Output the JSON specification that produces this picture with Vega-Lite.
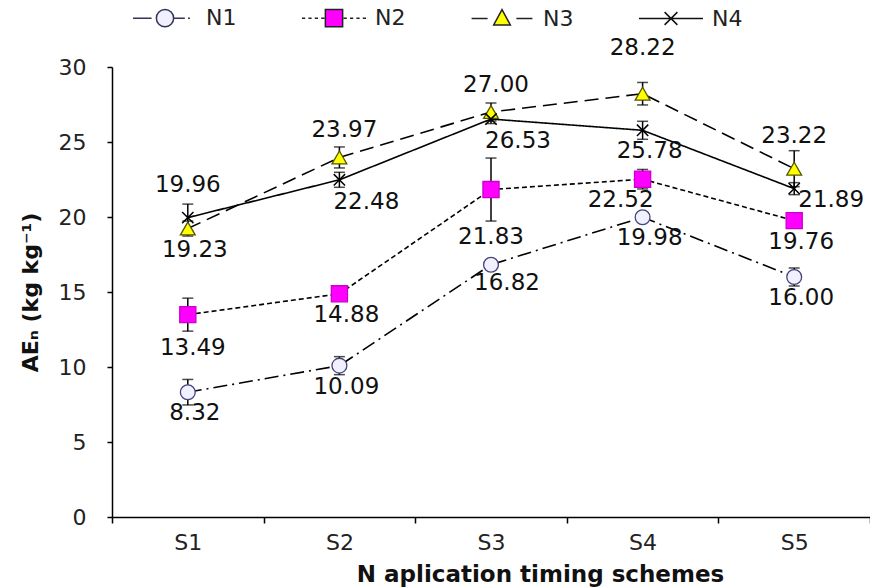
{
  "$schema": "https://vega.github.io/schema/vega-lite/v6.json",
  "autosize": "none",
  "width": 758,
  "height": 450,
  "padding": {"left": 112, "top": 67, "right": 0, "bottom": 70},
  "background": "white",
  "config": {
    "view": {"stroke": null},
    "font": "DejaVu Sans",
    "axis": {"grid": false, "domainColor": "#000", "domainWidth": 1.5, "tickColor": "#000", "tickWidth": 1.5, "labelFont": "DejaVu Sans", "labelFontSize": 22, "labelColor": "#222", "titleFont": "DejaVu Sans", "titleFontWeight": "bold", "titleColor": "#111"}
  },
  "data": {"values": [
    {"series": "N1", "scheme": "S1", "value": 8.32, "lo": 7.47, "hi": 9.17},
    {"series": "N1", "scheme": "S2", "value": 10.09, "lo": 9.49, "hi": 10.69},
    {"series": "N1", "scheme": "S3", "value": 16.82, "lo": 16.52, "hi": 17.12},
    {"series": "N1", "scheme": "S4", "value": 19.98, "lo": 19.68, "hi": 20.28},
    {"series": "N1", "scheme": "S5", "value": 16.00, "lo": 15.4, "hi": 16.6},
    {"series": "N2", "scheme": "S1", "value": 13.49, "lo": 12.39, "hi": 14.59},
    {"series": "N2", "scheme": "S2", "value": 14.88, "lo": 14.58, "hi": 15.18},
    {"series": "N2", "scheme": "S3", "value": 21.83, "lo": 19.73, "hi": 23.93},
    {"series": "N2", "scheme": "S4", "value": 22.52, "lo": 21.87, "hi": 23.17},
    {"series": "N2", "scheme": "S5", "value": 19.76, "lo": 19.46, "hi": 20.06},
    {"series": "N3", "scheme": "S1", "value": 19.23, "lo": 18.73, "hi": 19.73},
    {"series": "N3", "scheme": "S2", "value": 23.97, "lo": 23.27, "hi": 24.67},
    {"series": "N3", "scheme": "S3", "value": 27.00, "lo": 26.4, "hi": 27.6},
    {"series": "N3", "scheme": "S4", "value": 28.22, "lo": 27.47, "hi": 28.97},
    {"series": "N3", "scheme": "S5", "value": 23.22, "lo": 22.02, "hi": 24.42},
    {"series": "N4", "scheme": "S1", "value": 19.96, "lo": 19.06, "hi": 20.86},
    {"series": "N4", "scheme": "S2", "value": 22.48, "lo": 21.98, "hi": 22.98},
    {"series": "N4", "scheme": "S3", "value": 26.53, "lo": 26.23, "hi": 26.83},
    {"series": "N4", "scheme": "S4", "value": 25.78, "lo": 25.18, "hi": 26.38},
    {"series": "N4", "scheme": "S5", "value": 21.89, "lo": 21.49, "hi": 22.29}
  ]},
  "encoding": {
    "x": {
      "field": "scheme", "type": "ordinal", "bandPosition": 0.5,
      "scale": {"type": "band", "paddingInner": 0, "paddingOuter": 0},
      "axis": {"title": "N aplication timing schemes", "labelAngle": 0, "tickBand": "extent", "tickSize": 6, "labelPadding": 9, "titleFontSize": 23, "titleX": 428, "titleY": 57, "titleBaseline": "middle", "titleAlign": "center"}
    },
    "y": {"field": "value", "type": "quantitative", "scale": {"domain": [0, 30]}, "title": "AEₙ (kg kg⁻¹)",
      "axis": {"values": [0, 5, 10, 15, 20, 25, 30], "tickSize": 5, "labelPadding": 21, "titleFontSize": 22, "titleAngle": -90, "titleX": -82, "titleY": 225, "titleBaseline": "middle", "titleAlign": "center"}}
  },
  "layer": [
    {
      "mark": {"type": "line", "color": "#000", "strokeWidth": 1.6},
      "encoding": {
        "detail": {"field": "series"},
        "strokeDash": {"field": "series", "type": "nominal", "legend": null,
          "scale": {"range": [[14, 5, 2, 5], [5, 3], [14, 7], [1, 0]]}}
      }
    },
    {
      "mark": {"type": "rule", "color": "#000", "strokeWidth": 1.5},
      "encoding": {
        "y": {"field": "lo", "type": "quantitative", "title": "AEₙ (kg kg⁻¹)"},
        "y2": {"field": "hi"}
      }
    },
    {
      "mark": {"type": "tick", "color": "#000", "orient": "horizontal", "size": 11, "thickness": 1.5},
      "encoding": {"y": {"field": "lo", "type": "quantitative", "title": "AEₙ (kg kg⁻¹)"}}
    },
    {
      "mark": {"type": "tick", "color": "#000", "orient": "horizontal", "size": 11, "thickness": 1.5},
      "encoding": {"y": {"field": "hi", "type": "quantitative", "title": "AEₙ (kg kg⁻¹)"}}
    },
    {
      "transform": [{"filter": "datum.series === 'N1'"}],
      "mark": {"type": "point", "shape": "circle", "size": 220, "filled": false, "fill": "#f0f0ff", "stroke": "#44447a", "strokeWidth": 1.3, "opacity": 1}
    },
    {
      "transform": [{"filter": "datum.series === 'N2'"}],
      "mark": {"type": "point", "shape": "square", "size": 260, "filled": false, "fill": "#ff00ff", "stroke": "#cc00cc", "strokeWidth": 1.3, "opacity": 1}
    },
    {
      "transform": [{"filter": "datum.series === 'N3'"}],
      "mark": {"type": "point", "shape": "triangle-up", "size": 220, "filled": false, "fill": "#ffff00", "stroke": "#555500", "strokeWidth": 1.3, "opacity": 1}
    },
    {
      "transform": [{"filter": "datum.series === 'N4'"}],
      "mark": {"type": "point", "shape": "M-0.8,-0.8L0.8,0.8M-0.8,0.8L0.8,-0.8", "size": 200, "filled": false, "stroke": "#000", "strokeWidth": 1.5, "opacity": 1}
    },
    {
      "mark": {"type": "point", "filled": false, "opacity": 0, "strokeWidth": 1.5},
      "encoding": {
        "shape": {"field": "series", "type": "nominal",
          "scale": {"domain": ["N1", "N2", "N3", "N4"], "range": [
            "M-1,0H-0.42M0.27,0H0.62M0.72,0H0.78M-0.27,0A0.27,0.27,0,1,1,0.27,0A0.27,0.27,0,1,1,-0.27,0Z",
            "M-1,0H-0.9M-0.8,0H-0.7M-0.6,0H-0.5M-0.4,0H-0.3M0.3,0H0.4M0.5,0H0.6M0.7,0H0.8M0.9,0H1M-0.27,-0.27H0.27V0.27H-0.27Z",
            "M-0.95,0H-0.45M0.45,0H0.95M0,-0.28L0.26,0.2L-0.26,0.2Z",
            "M-1,0H1M-0.2,-0.2L0.2,0.2M-0.2,0.2L0.2,-0.2"]},
          "legend": {
            "title": null, "orient": "none", "direction": "horizontal", "legendX": 20, "legendY": -82, "padding": 0,
            "symbolSize": 4096, "symbolStrokeWidth": 1.5, "symbolOpacity": 1, "labelOffset": 8, "columnPadding": 62,
            "labelFont": "DejaVu Sans", "labelFontSize": 22, "labelColor": "#222"
          }
        },
        "fill": {"field": "series", "type": "nominal", "legend": {"title": null},
          "scale": {"domain": ["N1", "N2", "N3", "N4"], "range": ["#f0f0ff", "#ff00ff", "#ffff00", "transparent"]}},
        "stroke": {"field": "series", "type": "nominal", "legend": {"title": null},
          "scale": {"domain": ["N1", "N2", "N3", "N4"], "range": ["#333355", "#222222", "#222222", "#111111"]}}
      }
    },
    {
      "transform": [{"filter": "(datum.series === 'N1' && datum.scheme !== 'S3') || (datum.series === 'N2' && (datum.scheme === 'S2' || datum.scheme === 'S5')) || (datum.series === 'N3' && datum.scheme === 'S1') || (datum.series === 'N4' && datum.scheme === 'S4')"}],
      "mark": {"type": "text", "fontSize": 23, "color": "#111", "dx": 7, "dy": 21, "baseline": "middle", "align": "center"},
      "encoding": {"text": {"field": "value", "type": "quantitative", "format": ".2f"}}
    },
    {
      "transform": [{"filter": "datum.series === 'N1' && datum.scheme === 'S3'"}],
      "mark": {"type": "text", "fontSize": 23, "color": "#111", "dx": 16, "dy": 18, "baseline": "middle", "align": "center"},
      "encoding": {"text": {"field": "value", "type": "quantitative", "format": ".2f"}}
    },
    {
      "transform": [{"filter": "datum.series === 'N4' && (datum.scheme === 'S2' || datum.scheme === 'S3')"}],
      "mark": {"type": "text", "fontSize": 23, "color": "#111", "dx": 27, "dy": 22, "baseline": "middle", "align": "center"},
      "encoding": {"text": {"field": "value", "type": "quantitative", "format": ".2f"}}
    },
    {
      "transform": [{"filter": "datum.series === 'N2' && datum.scheme === 'S4'"}],
      "mark": {"type": "text", "fontSize": 23, "color": "#111", "dx": -22, "dy": 21, "baseline": "middle", "align": "center"},
      "encoding": {"text": {"field": "value", "type": "quantitative", "format": ".2f"}}
    },
    {
      "transform": [{"filter": "datum.series === 'N2' && datum.scheme === 'S1'"}],
      "mark": {"type": "text", "fontSize": 23, "color": "#111", "dx": 5, "dy": 33, "baseline": "middle", "align": "center"},
      "encoding": {"text": {"field": "value", "type": "quantitative", "format": ".2f"}}
    },
    {
      "transform": [{"filter": "datum.series === 'N2' && datum.scheme === 'S3'"}],
      "mark": {"type": "text", "fontSize": 23, "color": "#111", "dx": 0, "dy": 47, "baseline": "middle", "align": "center"},
      "encoding": {"text": {"field": "value", "type": "quantitative", "format": ".2f"}}
    },
    {
      "transform": [{"filter": "datum.series === 'N3' && (datum.scheme === 'S2' || datum.scheme === 'S3')"}],
      "mark": {"type": "text", "fontSize": 23, "color": "#111", "dx": 5, "dy": -27, "baseline": "middle", "align": "center"},
      "encoding": {"text": {"field": "value", "type": "quantitative", "format": ".2f"}}
    },
    {
      "transform": [{"filter": "(datum.series === 'N4' && datum.scheme === 'S1') || (datum.series === 'N3' && datum.scheme === 'S5')"}],
      "mark": {"type": "text", "fontSize": 23, "color": "#111", "dx": 0, "dy": -33, "baseline": "middle", "align": "center"},
      "encoding": {"text": {"field": "value", "type": "quantitative", "format": ".2f"}}
    },
    {
      "transform": [{"filter": "datum.series === 'N3' && datum.scheme === 'S4'"}],
      "mark": {"type": "text", "fontSize": 23, "color": "#111", "dx": 0, "dy": -46, "baseline": "middle", "align": "center"},
      "encoding": {"text": {"field": "value", "type": "quantitative", "format": ".2f"}}
    },
    {
      "transform": [{"filter": "datum.series === 'N4' && datum.scheme === 'S5'"}],
      "mark": {"type": "text", "fontSize": 23, "color": "#111", "dx": 37, "dy": 11, "baseline": "middle", "align": "center"},
      "encoding": {"text": {"field": "value", "type": "quantitative", "format": ".2f"}}
    }
  ]
}
